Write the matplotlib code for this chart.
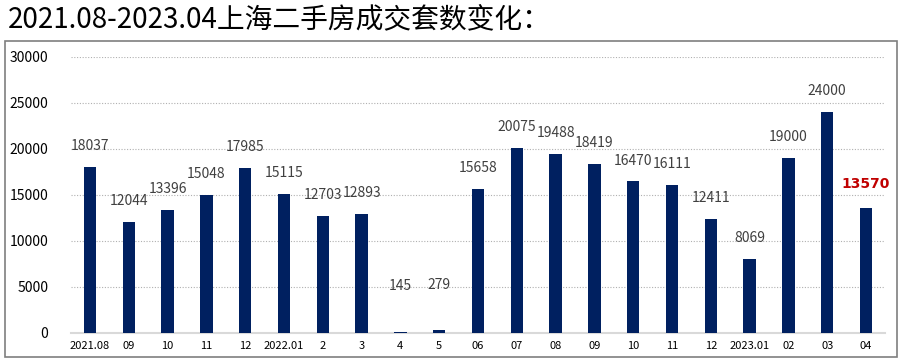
import matplotlib
matplotlib.use("Agg")
import matplotlib.pyplot as plt
from matplotlib.patches import Rectangle

plt.rcParams['font.family'] = ['Noto Sans CJK SC', 'DejaVu Sans']

months = ["2021.08", "09", "10", "11", "12", "2022.01", "2", "3", "4", "5",
          "06", "07", "08", "09", "10", "11", "12", "2023.01", "02", "03", "04"]
values = [18037, 12044, 13396, 15048, 17985, 15115, 12703, 12893, 145, 279,
          15658, 20075, 19488, 18419, 16470, 16111, 12411, 8069, 19000, 24000, 13570]
yticks = [0, 5000, 10000, 15000, 20000, 25000, 30000]
title = "2021.08-2023.04上海二手房成交套数变化："

fig = plt.figure(figsize=(9.03, 3.6), dpi=100)
fig.patches.append(Rectangle((5/903, 3/360), 892/903, 316/360, transform=fig.transFigure,
                             fill=False, edgecolor='#7f7f7f', linewidth=1.2))
fig.text(8/903, 1 - 20/360, title, fontsize=20, va='center', ha='left', color='black',
         fontweight='medium')

ax = fig.add_axes([70.6/903, 27/360, 814.8/903, 276/360])
x = list(range(len(values)))
ax.bar(x, values, width=0.32, color='#002060', zorder=3)
ax.set_xlim(-0.5, len(values) - 0.5)
ax.set_ylim(0, 30000)
ax.set_yticks(yticks)
ax.set_yticklabels([str(v) for v in yticks], fontsize=10, color='#000000')
ax.set_xticks(x)
ax.set_xticklabels(months, fontsize=8, color='#000000')
ax.tick_params(axis='both', length=0)
ax.tick_params(axis='y', pad=16)
ax.tick_params(axis='x', pad=6)
ax.yaxis.grid(True, color='#b0b0b0', linestyle=(0, (1, 1.5)), linewidth=0.8, zorder=0)
ax.set_axisbelow(True)
for s in ['top', 'right', 'left']:
    ax.spines[s].set_visible(False)
ax.spines['bottom'].set_color('#d9d9d9')
ax.spines['bottom'].set_linewidth(1.5)
ax.spines['bottom'].set_zorder(1)

for i, v in enumerate(values):
    off = 10
    if i in (8, 9):
        off = 28
    if i == len(values) - 1:
        ax.annotate(str(v), (i, v), xytext=(0, off + 2), textcoords='offset points',
                    ha='center', va='bottom', fontsize=10, color='#c00000', fontweight='bold',
                    family='DejaVu Sans')
    else:
        ax.annotate(str(v), (i, v), xytext=(0, off), textcoords='offset points',
                    ha='center', va='bottom', fontsize=10, color='#404040')

fig.savefig('out.png', dpi=100)
